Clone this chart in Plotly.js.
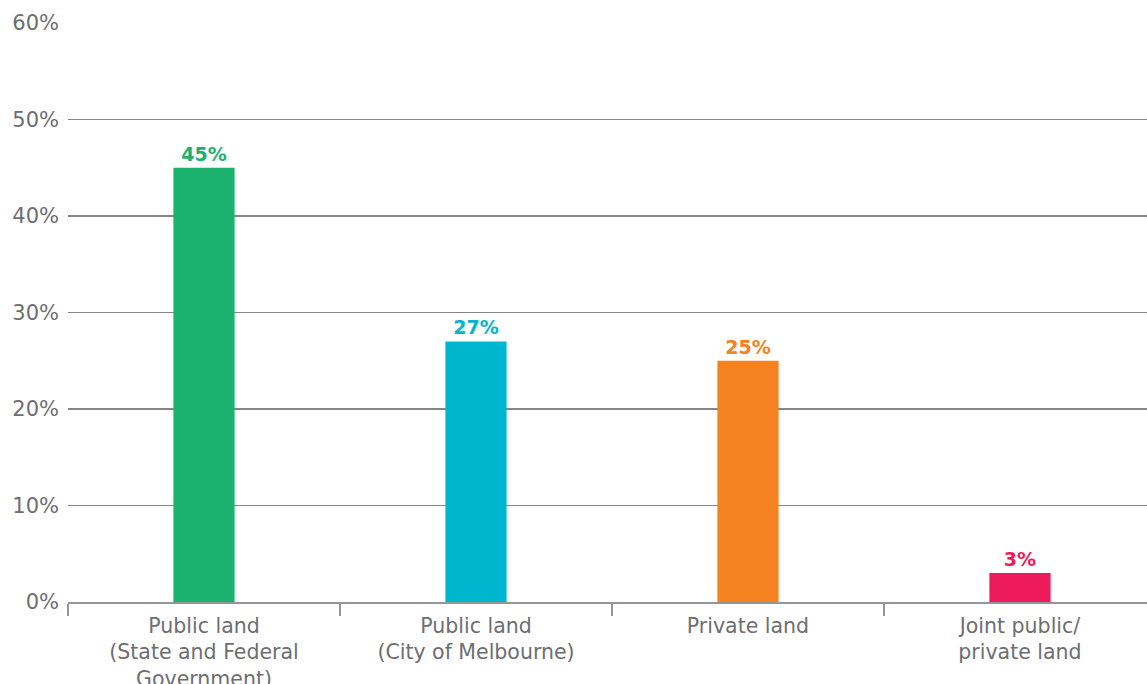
<!DOCTYPE html>
<html>
<head>
<meta charset="utf-8">
<script src="https://cdn.plot.ly/plotly-3.0.1.min.js"></script>
<style>html,body{margin:0;padding:0;background:#fff;}#chart{width:1147px;height:684px;}</style>
</head>
<body>
<div id="chart"></div>
<script>
const categories = ["Public land<br>(State and Federal<br>Government)", "Public land<br>(City of Melbourne)", "Private land", "Joint public/<br>private land"];
const values = [45, 27, 25, 3];
const labels = ["45%", "27%", "25%", "3%"];
const colors = ["#1bb270", "#00b6ce", "#f58220", "#ed1a5c"];
const yTicks = [0, 10, 20, 30, 40, 50, 60];
const yTickText = ["0%", "10%", "20%", "30%", "40%", "50%", "60%"];

const FONT = "'DejaVu Sans', sans-serif";
const trace = {
  type: "bar",
  x: categories,
  y: values,
  text: labels,
  textposition: "outside",
  textfont: {family: FONT, size: 19, color: colors, weight: "bold"},
  marker: {color: colors},
  width: 0.225,
  cliponaxis: false,
  hoverinfo: "none"
};
const layout = {
  width: 1147, height: 684,
  margin: {l: 68, r: 0, t: 23, b: 82},
  paper_bgcolor: "#fff", plot_bgcolor: "#fff",
  showlegend: false,
  font: {family: FONT, size: 20, color: "#6d6e71"},
  xaxis: {
    type: "category",
    range: [-0.5, 3.467],
    tickson: "boundaries",
    ticks: "outside", ticklen: 12, tickwidth: 1.5, tickcolor: "#939598",
    showline: true, linecolor: "#939598", linewidth: 2,
    showgrid: false, zeroline: false,
    ticklabelstandoff: 4,
    tickfont: {family: FONT, size: 20.5, color: "#6d6e71"}
  },
  yaxis: {
    range: [0, 60],
    tickvals: yTicks, ticktext: yTickText,
    showgrid: true, gridcolor: "#858587", gridwidth: 1.5,
    zeroline: false, showline: false, ticks: "",
    ticklabelstandoff: 8,
    tickfont: {family: FONT, size: 21, color: "#6d6e71"}
  }
};
Plotly.newPlot("chart", [trace], layout, {displayModeBar: false, staticPlot: true});
</script>
</body>
</html>
